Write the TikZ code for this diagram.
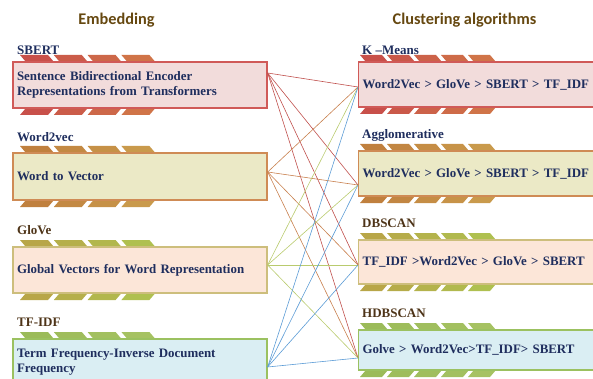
\documentclass[tikz,border=0pt]{standalone}
\usepackage{fontspec}
\setmainfont{Liberation Serif}
\newfontfamily\titlefont{Carlito}
\usetikzlibrary{calc}
\definecolor{navy}{HTML}{1F2E5E}
\definecolor{brn}{HTML}{4E3418}
\definecolor{ttl}{HTML}{664810}
\definecolor{fillA}{HTML}{F2DCDB}
\definecolor{drawA}{HTML}{D05A58}
\definecolor{fillB}{HTML}{EBE9C6}
\definecolor{drawB}{HTML}{CF8B55}
\definecolor{fillC}{HTML}{FCE6D8}
\definecolor{drawC}{HTML}{CDBE7C}
\definecolor{fillD}{HTML}{DAEEF3}
\definecolor{drawD}{HTML}{9BC160}
\definecolor{chA1}{HTML}{C8504A}
\definecolor{chA2}{HTML}{D07448}
\definecolor{chB1}{HTML}{C0803E}
\definecolor{chB2}{HTML}{C99A4C}
\definecolor{chC1}{HTML}{B8A648}
\definecolor{chC2}{HTML}{AFC050}
\definecolor{chD1}{HTML}{9BBB59}
\definecolor{chD2}{HTML}{A6C262}
\definecolor{lnA}{HTML}{C0504D}
\definecolor{lnB}{HTML}{C8804E}
\definecolor{lnC}{HTML}{B9CB6E}
\definecolor{lnD}{HTML}{5B9BD5}
\tikzset{
  lbox/.style={draw=#1, line width=1.3pt, minimum width=254pt, inner xsep=4pt,
    text width=246pt, align=left, font=\bfseries\fontsize{12.9}{15}\selectfont, text=navy},
  rbox/.style={draw=#1, line width=1.3pt, minimum width=250pt, inner xsep=4pt,
    text width=242pt, align=left, font=\bfseries\fontsize{12.9}{15}\selectfont, text=navy},
  lab/.style={font=\bfseries\fontsize{13}{14}\selectfont, anchor=west, inner sep=0pt},
  ttlsty/.style={font=\titlefont\bfseries\fontsize{16.3}{18}\selectfont, text=ttl, inner sep=0pt},
  conn/.style={line width=0.6pt, draw=#1}
}
\begin{document}
\begin{tikzpicture}[x={(1pt,0)}, y={(0,-1pt)}]
\useasboundingbox (0,0) rectangle (593,379);
% titles
\node[ttlsty] (t1) at (116.5,20) {Embedding};
\node[ttlsty] (t2) at (464.5,20) {Clustering algorithms};
% chevron strips
\foreach \yt/\yb/\ca/\cb in {62/108/chA1/chA2, 153/200/chB1/chB2, 247/293/chC1/chC2, 339/385/chD1/chD2}{
  \foreach \i in {0,...,3}{
    \pgfmathsetmacro{\xx}{20+33.8*\i}
    \pgfmathsetmacro{\pc}{100-33*\i}
    \fill[\ca!\pc!\cb] (\xx,\yt-7) -- (\xx+28,\yt-7) -- (\xx+34,\yt) -- (\xx+6,\yt) -- cycle;
    \fill[\ca!\pc!\cb] (\xx+6,\yb) -- (\xx+34,\yb) -- (\xx+28,\yb+7) -- (\xx,\yb+7) -- cycle;
  }
}
\foreach \yt/\yb/\ca/\cb in {62/107/chA1/chA2, 151/196/chB1/chB2, 240/284/chC1/chC2, 330/370/chD1/chD2}{
  \foreach \i in {0,...,4}{
    \pgfmathsetmacro{\xx}{360+27*\i}
    \pgfmathsetmacro{\pc}{100-25*\i}
    \fill[\ca!\pc!\cb] (\xx,\yt-7) -- (\xx+22,\yt-7) -- (\xx+28,\yt) -- (\xx+6,\yt) -- cycle;
    \fill[\ca!\pc!\cb] (\xx+6,\yb) -- (\xx+28,\yb) -- (\xx+22,\yb+7) -- (\xx,\yb+7) -- cycle;
  }
}
% left boxes
\node[lbox=drawA, fill=fillA, minimum height=46pt] (sbert) at (140,85)
  {Sentence Bidirectional Encoder\\Representations from Transformers};
\node[lbox=drawB, fill=fillB, minimum height=47pt] (w2v) at (140,176.5) {Word to Vector};
\node[lbox=drawC, fill=fillC, minimum height=46pt] (glove) at (140,270) {Global Vectors for Word Representation};
\node[lbox=drawD, fill=fillD, minimum height=46pt] (tfidf) at (140,362)
  {Term Frequency-Inverse Document\\Frequency};
% right boxes
\node[rbox=drawA, fill=fillA, minimum height=45pt, anchor=west] (km) at (358,84.5)
  {Word2Vec > GloVe > SBERT > TF\_IDF};
\node[rbox=drawB, fill=fillB, minimum height=45pt, anchor=west] (agg) at (358,173.5)
  {Word2Vec > GloVe > SBERT > TF\_IDF};
\node[rbox=drawC, fill=fillC, minimum height=44pt, anchor=west] (db) at (358,262)
  {TF\_IDF >Word2Vec > GloVe > SBERT};
\node[rbox=drawD, fill=fillD, minimum height=40pt, anchor=west] (hdb) at (358,350)
  {Golve > Word2Vec>TF\_IDF> SBERT};
% labels
\node[lab, text=navy] (l1) at (17,50) {SBERT};
\node[lab, text=navy] (l2) at (17,137) {Word2vec};
\node[lab, text=brn] (l3) at (17,230) {GloVe};
\node[lab, text=brn] (l4) at (17,322) {TF-IDF};
\node[lab, text=navy] (r1) at (362,50) {K –Means};
\node[lab, text=navy] (r2) at (362,135) {Agglomerative};
\node[lab, text=brn] (r3) at (362,223) {DBSCAN};
\node[lab, text=brn] (r4) at (362,313) {HDBSCAN};
% connection points
\coordinate (sA) at ([yshift=12pt]sbert.east);
\coordinate (sB) at ([yshift=4.5pt]w2v.east);
\coordinate (sC) at ([yshift=5pt]glove.east);
\coordinate (sD) at ([yshift=-5pt]tfidf.east);
\coordinate (eA) at ([yshift=-2.5pt]km.west);
\coordinate (eB) at ([yshift=-11.5pt]agg.west);
\coordinate (eC) at ([yshift=-3pt]db.west);
\coordinate (eD) at ([yshift=-8pt]hdb.west);
\foreach \s/\c in {sA/lnA, sB/lnB, sC/lnC, sD/lnD}{
  \foreach \e in {eA, eB, eC, eD}{
    \draw[conn=\c] (\s) -- (\e);
  }
}
\end{tikzpicture}
\end{document}
